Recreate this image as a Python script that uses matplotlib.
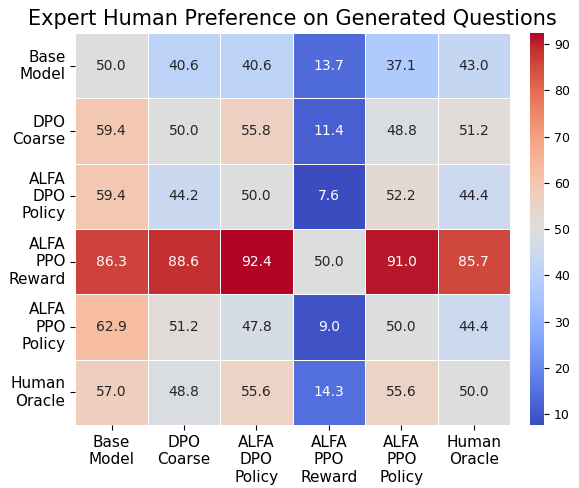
import numpy as np
import matplotlib
matplotlib.use("Agg")
import matplotlib.pyplot as plt
import seaborn as sns

labels = ["Base\nModel", "DPO\nCoarse", "ALFA\nDPO\nPolicy", "ALFA\nPPO\nReward",
          "ALFA\nPPO\nPolicy", "Human\nOracle"]

base_model = [50.0, 40.6, 40.6, 13.7, 37.1, 43.0]
dpo_coarse = [59.4, 50.0, 55.8, 11.4, 48.8, 51.2]
alfa_dpo_policy = [59.4, 44.2, 50.0, 7.6, 52.2, 44.4]
alfa_ppo_reward = [86.3, 88.6, 92.4, 50.0, 91.0, 85.7]
alfa_ppo_policy = [62.9, 51.2, 47.8, 9.0, 50.0, 44.4]
human_oracle = [57.0, 48.8, 55.6, 14.3, 55.6, 50.0]

data = np.array([base_model, dpo_coarse, alfa_dpo_policy,
                 alfa_ppo_reward, alfa_ppo_policy, human_oracle])

fig = plt.figure(figsize=(5.79, 4.88), dpi=100)
ax = fig.add_axes([0.13, 0.129, 0.751, 0.803])
cax = fig.add_axes([0.915, 0.129, 0.025, 0.803])

sns.heatmap(data, annot=True, fmt=".1f", cmap="coolwarm", linewidths=0.5,
            linecolor="white", xticklabels=labels, yticklabels=labels,
            annot_kws={"fontsize": 10}, ax=ax, cbar_ax=cax)

ax.set_title("Expert Human Preference on Generated Questions", fontsize=15)
ax.tick_params(axis="x", labelsize=11, rotation=0)
ax.tick_params(axis="y", labelsize=11, rotation=0)
cax.tick_params(labelsize=9)

fig.savefig("out.png", dpi=100)
